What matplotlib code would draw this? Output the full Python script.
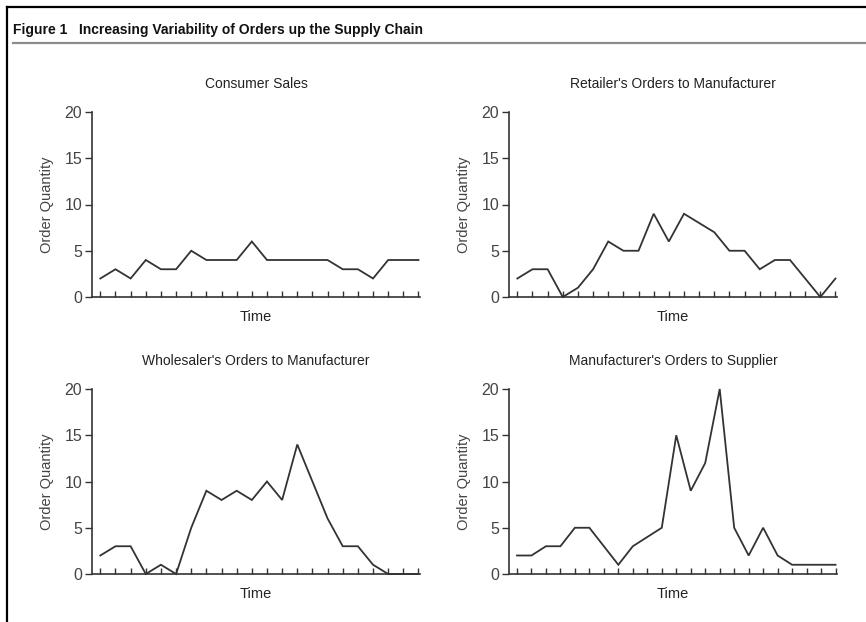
import matplotlib
matplotlib.use('Agg')
import matplotlib.pyplot as plt
from matplotlib.lines import Line2D

plt.rcParams['font.family'] = ['Liberation Sans', 'DejaVu Sans']

# order quantities, one value per time period
consumer_sales = [2, 3, 2, 4, 3, 3, 5, 4, 4, 4, 6, 4, 4, 4, 4, 4, 3, 3, 2, 4, 4, 4]
retailer_orders = [2, 3, 3, 0, 1, 3, 6, 5, 5, 9, 6, 9, 8, 7, 5, 5, 3, 4, 4, 2, 0, 2]
wholesaler_orders = [2, 3, 3, 0, 1, 0, 5, 9, 8, 9, 8, 10, 8, 14, 10, 6, 3, 3, 1, 0, 0, 0]
manufacturer_orders = [2, 2, 3, 3, 5, 5, 3, 1, 3, 4, 5, 15, 9, 12, 20, 5, 2, 5, 2, 1, 1, 1, 1]

titles = ["Consumer Sales", "Retailer's Orders to Manufacturer",
          "Wholesaler's Orders to Manufacturer", "Manufacturer's Orders to Supplier"]
series = [consumer_sales, retailer_orders, wholesaler_orders, manufacturer_orders]
y_ticks = [0, 5, 10, 15, 20]

line_col = '#333333'
text_col = '#444444'

fig = plt.figure(figsize=(8.66, 6.22), dpi=100)

# frame and heading
fig.add_artist(Line2D([7.5 / 866, 7.5 / 866], [0, 1 - 6.5 / 622], color='black', lw=1.6,
                      transform=fig.transFigure))
fig.add_artist(Line2D([7.5 / 866, 1], [1 - 6.5 / 622, 1 - 6.5 / 622], color='black', lw=1.6,
                      transform=fig.transFigure))
fig.add_artist(Line2D([13 / 866, 1], [1 - 42.5 / 622, 1 - 42.5 / 622], color='#8c8c8c', lw=1.6,
                      transform=fig.transFigure))
fig.text(13 / 866, 1 - 30 / 622, "Figure 1   Increasing Variability of Orders up the Supply Chain",
         fontsize=10, fontweight='bold', color='#111111', va='center', ha='left')

# axes boxes: left, bottom, width, height (figure fractions)
positions = [
    [92 / 866, 1 - 297 / 622, 328 / 866, 185 / 622],
    [509 / 866, 1 - 297 / 622, 328 / 866, 185 / 622],
    [92 / 866, 1 - 574 / 622, 328 / 866, 185 / 622],
    [509 / 866, 1 - 574 / 622, 328 / 866, 185 / 622],
]

for pos, title, vals in zip(positions, titles, series):
    ax = fig.add_axes(pos)
    x = list(range(len(vals)))
    ax.plot(x, vals, color=line_col, lw=1.3, clip_on=False, solid_joinstyle='miter')
    n = len(vals) - 1
    ax.set_xlim(-0.55, n + 0.1)
    ax.set_ylim(0, 20)
    ax.spines['top'].set_visible(False)
    ax.spines['right'].set_visible(False)
    for s in ['left', 'bottom']:
        ax.spines[s].set_color(line_col)
        ax.spines[s].set_linewidth(1.2)
    ax.set_xticks(x)
    ax.set_xticklabels([])
    ax.tick_params(axis='x', direction='in', length=4, width=1, color=line_col)
    ax.set_yticks(y_ticks)
    ax.tick_params(axis='y', direction='out', length=5, width=1, color=line_col,
                   labelsize=11.5, labelcolor=text_col, pad=2)
    ax.set_title(title, fontsize=10, color='#222222', pad=17)
    ax.set_xlabel('Time', fontsize=10.5, color='#222222', labelpad=6)
    ax.set_ylabel('Order Quantity', fontsize=10.5, color=text_col)
    ax.yaxis.set_label_coords(-0.115, 0.5)

fig.savefig('out.png', dpi=100, facecolor='white')
